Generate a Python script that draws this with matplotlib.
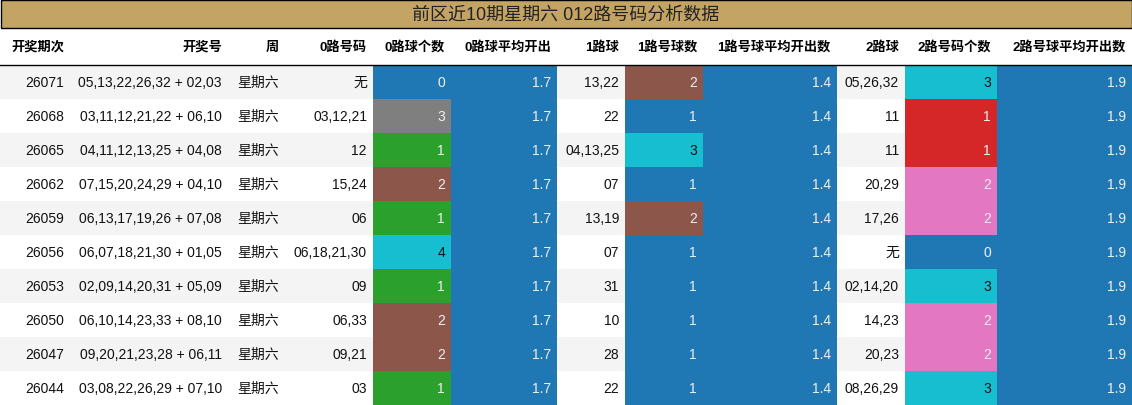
import matplotlib.pyplot as plt
from matplotlib.patches import Rectangle

FONT = ['Liberation Sans', 'Noto Sans CJK SC', 'DejaVu Sans']
plt.rcParams['font.family'] = FONT

title = '前区近10期星期六 012路号码分析数据'
headers = ['开奖期次', '开奖号', '周', '0路号码', '0路球个数', '0路球平均开出',
           '1路球', '1路号球数', '1路号球平均开出数', '2路球', '2路号码个数', '2路号球平均开出数']

issues = ['26071', '26068', '26065', '26062', '26059', '26056', '26053', '26050', '26047', '26044']
draws = ['05,13,22,26,32 + 02,03', '03,11,12,21,22 + 06,10', '04,11,12,13,25 + 04,08',
         '07,15,20,24,29 + 04,10', '06,13,17,19,26 + 07,08', '06,07,18,21,30 + 01,05',
         '02,09,14,20,31 + 05,09', '06,10,14,23,33 + 08,10', '09,20,21,23,28 + 06,11',
         '03,08,22,26,29 + 07,10']
weekday = ['星期六'] * 10
road0 = ['无', '03,12,21', '12', '15,24', '06', '06,18,21,30', '09', '06,33', '09,21', '03']
road0_n = [0, 3, 1, 2, 1, 4, 1, 2, 2, 1]
road0_avg = [1.7] * 10
road1 = ['13,22', '22', '04,13,25', '07', '13,19', '07', '31', '10', '28', '22']
road1_n = [2, 1, 3, 1, 2, 1, 1, 1, 1, 1]
road1_avg = [1.4] * 10
road2 = ['05,26,32', '11', '11', '20,29', '17,26', '无', '02,14,20', '14,23', '20,23', '08,26,29']
road2_n = [3, 1, 1, 2, 2, 0, 3, 2, 2, 3]
road2_avg = [1.9] * 10

blue, gray, green, brown, cyan, red, pink = ('#1f77b4', '#7f7f7f', '#2ca02c', '#8c564b',
                                             '#17becf', '#d62728', '#e377c2')
cmap0 = {0: blue, 1: green, 2: brown, 3: gray, 4: cyan}
cmap1 = {1: blue, 2: brown, 3: cyan}
cmap2 = {0: blue, 1: red, 2: pink, 3: cyan}

# column right edges (pixels)
edges = [0, 70, 228, 285, 373, 451, 557, 625, 703, 837, 905, 997, 1132]
W, H = 1132, 406
title_h, head_h, row_h = 28, 37, 34

fig = plt.figure(figsize=(W / 100, H / 100), dpi=100)
ax = fig.add_axes([0, 0, 1, 1])
ax.set_xlim(0, W)
ax.set_ylim(H, 0)
ax.axis('off')

ax.add_patch(Rectangle((0.5, 0.5), W - 1, title_h, facecolor='#c4a464', edgecolor='black', lw=1))
ax.text(W / 2, title_h / 2 + 1, title, ha='center', va='center', fontsize=13, color='#222222')

y0 = title_h + 1
for j, h in enumerate(headers):
    ax.text(edges[j + 1] - 6, y0 + head_h / 2, h, ha='right', va='center',
            fontsize=9.5, fontweight='bold')
ax.plot([0, W], [y0 + head_h, y0 + head_h], color='black', lw=1)

for i in range(len(issues)):
    top = y0 + head_h + i * row_h
    if i % 2 == 0:
        ax.add_patch(Rectangle((0, top), W, row_h, facecolor='#f4f4f4', edgecolor='none'))
    cells = [issues[i], draws[i], weekday[i], road0[i], road0_n[i], road0_avg[i],
             road1[i], road1_n[i], road1_avg[i], road2[i], road2_n[i], road2_avg[i]]
    fills = {4: cmap0[road0_n[i]], 5: blue, 7: cmap1[road1_n[i]], 8: blue,
             10: cmap2[road2_n[i]], 11: blue}
    for j, val in enumerate(cells):
        color = '#111111'
        if j in fills:
            ax.add_patch(Rectangle((edges[j], top), edges[j + 1] - edges[j], row_h,
                                   facecolor=fills[j], edgecolor='none'))
            color = '#111111' if fills[j] == cyan else '#f0f0f0'
        ax.text(edges[j + 1] - 6, top + row_h / 2, str(val), ha='right', va='center',
                fontsize=10, color=color)

fig.savefig('out.png', dpi=100)
